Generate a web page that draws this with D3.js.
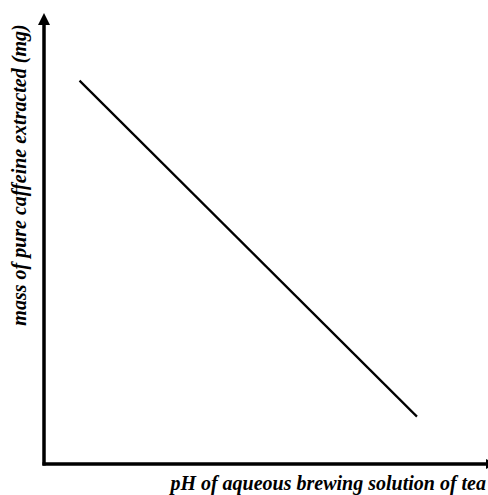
<!DOCTYPE html>
<html>
<head>
<meta charset="utf-8">
<script src="https://cdn.jsdelivr.net/npm/d3@7"></script>
<style>
html,body{margin:0;padding:0;background:#fff;}
svg{display:block;}
</style>
</head>
<body>
<script>
const phValues = [0.8, 8.4];
const caffeineMass = [8.5, 1.05];
const xLabel = "pH of aqueous brewing solution of tea";
const yLabel = "mass of pure caffeine extracted (mg)";

const W = 488, H = 495;
const svg = d3.select("body").append("svg").attr("width", W).attr("height", H);

const x = d3.scaleLinear().domain([0, 10]).range([44, 488]);
const y = d3.scaleLinear().domain([0, 10]).range([464, 13]);

// axes
svg.append("line").attr("x1", x(0)).attr("y1", y(0) + 1.5).attr("x2", x(0)).attr("y2", y(10) + 10)
  .attr("stroke", "#000").attr("stroke-width", 3.5);
svg.append("path")
  .attr("d", `M${x(0)},${y(10)} L${x(0) - 6},${y(10) + 12} L${x(0) + 6},${y(10) + 12} Z`)
  .attr("fill", "#000");

svg.append("line").attr("x1", x(0) - 1.5).attr("y1", y(0)).attr("x2", W + 2).attr("y2", y(0))
  .attr("stroke", "#000").attr("stroke-width", 3.5);
svg.append("path")
  .attr("d", `M${W + 8},${y(0)} L${W - 2},${y(0) - 5} L${W - 2},${y(0) + 5} Z`)
  .attr("fill", "#000");

// line
const pts = phValues.map((v, i) => [v, caffeineMass[i]]);
svg.append("path").datum(pts)
  .attr("d", d3.line().x(d => x(d[0])).y(d => y(d[1])))
  .attr("fill", "none").attr("stroke", "#000").attr("stroke-width", 2.2);

// labels
svg.append("text")
  .attr("x", 486).attr("y", 489.5)
  .attr("text-anchor", "end")
  .attr("font-family", "Liberation Serif, Times New Roman, serif")
  .attr("font-weight", "bold").attr("font-style", "italic")
  .attr("font-size", 20)
  .text(xLabel);

svg.append("text")
  .attr("transform", "translate(26,175) rotate(-90)")
  .attr("text-anchor", "middle")
  .attr("font-family", "Liberation Serif, Times New Roman, serif")
  .attr("font-weight", "bold").attr("font-style", "italic")
  .attr("font-size", 20)
  .text(yLabel);
</script>
</body>
</html>
